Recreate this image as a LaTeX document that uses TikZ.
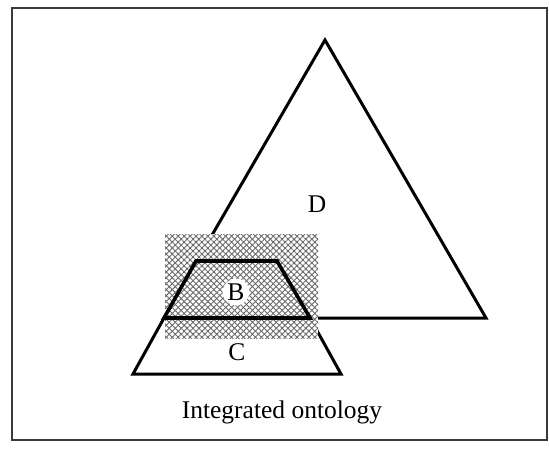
\documentclass[tikz,border=0pt]{standalone}
\usepackage{fontspec}
\setmainfont{Liberation Serif}
\usetikzlibrary{patterns.meta}
\definecolor{frameGray}{HTML}{3A3A3A}
\definecolor{meshGray}{HTML}{6A6A6A}

\begin{document}
\begin{tikzpicture}[x=1pt,y=-1pt,line join=miter]
  \tikzstyle{ontoLine}=[draw=black,line width=3pt]
  \tikzstyle{ontoLabel}=[font=\fontsize{25.5}{30}\selectfont,inner sep=1pt]
  \useasboundingbox (0,0) rectangle (549,450);
  \draw[frameGray,line width=1.2pt] (12,8) rectangle (547,440);
  % ontology D
  \draw[ontoLine] (325,40) -- (486,318) -- (164,318) -- cycle;
  % ontology C
  \draw[ontoLine] (133,374) -- (164,318) -- (310,318) -- (341,374) -- cycle;
  % overlap area
  \fill[white] (165,234) rectangle (318,338);
  \fill[pattern={Lines[angle=45,distance=4.2pt,line width=0.9pt]},pattern color=meshGray] (165,234) rectangle (318,338);
  \fill[pattern={Lines[angle=-45,distance=4.2pt,line width=0.9pt]},pattern color=meshGray] (165,234) rectangle (318,338);
  % ontology B
  \draw[ontoLine,line width=3.6pt] (164,318) -- (196,261) -- (277,261) -- (310,318) -- cycle;
  \node[ontoLabel,circle,fill=white] (labB) at (236,292) {B};
  \node[ontoLabel] (labC) at (237,352) {C};
  \node[ontoLabel] (labD) at (317,204) {D};
  \node[ontoLabel] (caption) at (282,412) {Integrated ontology};
\end{tikzpicture}
\end{document}
